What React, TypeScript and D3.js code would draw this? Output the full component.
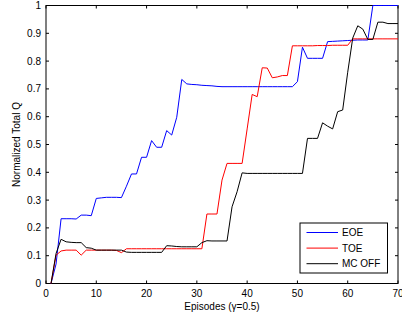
import { useEffect, useRef } from 'react'
import * as d3 from 'd3'

// episodes 1..70
const episodes = d3.range(1, 71)

const eoe = [
  0, 0.07, 0.233, 0.233, 0.233, 0.232, 0.246, 0.246, 0.244, 0.306,
  0.308, 0.31, 0.31, 0.31, 0.309, 0.35, 0.394, 0.394, 0.454, 0.454,
  0.514, 0.49, 0.49, 0.55, 0.534, 0.598, 0.734, 0.718, 0.716, 0.715,
  0.713, 0.712, 0.711, 0.709, 0.708, 0.708, 0.708, 0.708, 0.708, 0.708,
  0.708, 0.708, 0.708, 0.708, 0.708, 0.708, 0.708, 0.708, 0.708, 0.726,
  0.85, 0.81, 0.81, 0.81, 0.81, 0.87, 0.871, 0.872, 0.873, 0.874,
  0.875, 0.876, 0.876, 0.876, 1, 1, 1, 1, 1, 1,
]

const toe = [
  0, 0.102, 0.117, 0.12, 0.12, 0.12, 0.102, 0.12, 0.12, 0.12,
  0.12, 0.12, 0.12, 0.119, 0.111, 0.125, 0.125, 0.125, 0.125, 0.125,
  0.125, 0.125, 0.125, 0.125, 0.125, 0.125, 0.125, 0.125, 0.125, 0.125,
  0.125, 0.25, 0.25, 0.25, 0.372, 0.432, 0.432, 0.432, 0.432, 0.556,
  0.68, 0.672, 0.776, 0.775, 0.74, 0.743, 0.748, 0.748, 0.855, 0.855,
  0.855, 0.855, 0.855, 0.856, 0.856, 0.856, 0.857, 0.857, 0.857, 0.857,
  0.88, 0.88, 0.88, 0.88, 0.88, 0.88, 0.88, 0.88, 0.88, 0.88,
]

const mcOff = [
  0, 0.108, 0.159, 0.15, 0.148, 0.147, 0.147, 0.129, 0.127, 0.12,
  0.12, 0.12, 0.12, 0.12, 0.12, 0.113, 0.112, 0.112, 0.112, 0.112,
  0.112, 0.112, 0.112, 0.136, 0.135, 0.133, 0.132, 0.132, 0.132, 0.132,
  0.147, 0.154, 0.153, 0.153, 0.153, 0.153, 0.276, 0.33, 0.398, 0.396,
  0.396, 0.396, 0.396, 0.396, 0.396, 0.396, 0.396, 0.396, 0.396, 0.396,
  0.396, 0.522, 0.522, 0.522, 0.578, 0.566, 0.556, 0.618, 0.624, 0.76,
  0.883, 0.927, 0.915, 0.878, 0.878, 0.94, 0.94, 0.935, 0.935, 0.935,
]

const xTicks = [0, 10, 20, 30, 40, 50, 60, 70]
const yTicks = [0, 0.1, 0.2, 0.3, 0.4, 0.5, 0.6, 0.7, 0.8, 0.9, 1]
const series = [
  { name: 'EOE', values: eoe, color: '#0000ff' },
  { name: 'TOE', values: toe, color: '#ff0000' },
  { name: 'MC OFF', values: mcOff, color: '#000000' },
]

export default function App() {
  const svgRef = useRef<SVGSVGElement>(null)

  useEffect(() => {
    const svg = d3.select(svgRef.current)
    svg.selectAll('*').remove()
    const font = 'Liberation Sans, Arial, sans-serif'
    const L = 46, R = 398, T = 5.5, B = 283.5

    const xSc = d3.scaleLinear().domain([0, 70]).range([L, R])
    const ySc = d3.scaleLinear().domain([0, 1]).range([B, T])

    svg.append('rect').attr('width', 402).attr('height', 320).attr('fill', '#fff')

    // box + inward ticks (all four sides)
    svg.append('rect').attr('x', L).attr('y', T).attr('width', R - L).attr('height', B - T)
      .attr('fill', 'none').attr('stroke', '#000').attr('stroke-width', 1)
    const tl = 3
    xTicks.forEach(t => {
      const x = xSc(t)
      svg.append('line').attr('x1', x).attr('x2', x).attr('y1', B).attr('y2', B - tl).attr('stroke', '#000')
      svg.append('line').attr('x1', x).attr('x2', x).attr('y1', T).attr('y2', T + tl).attr('stroke', '#000')
      svg.append('text').attr('x', x).attr('y', 297).attr('text-anchor', 'middle')
        .attr('font-family', font).attr('font-size', '10px').attr('fill', '#000').text(String(t))
    })
    yTicks.forEach(t => {
      const y = ySc(t)
      svg.append('line').attr('x1', L).attr('x2', L + tl).attr('y1', y).attr('y2', y).attr('stroke', '#000')
      svg.append('line').attr('x1', R).attr('x2', R - tl).attr('y1', y).attr('y2', y).attr('stroke', '#000')
      svg.append('text').attr('x', 41).attr('y', y).attr('dy', '0.35em').attr('text-anchor', 'end')
        .attr('font-family', font).attr('font-size', '10px').attr('fill', '#000').text(d3.format('~g')(t))
    })

    // series drawn over the frame (blue at 1.0 sits on the top edge)
    const line = d3.line<number>().x((_, i) => xSc(episodes[i])).y(d => ySc(d))
    series.forEach(s => {
      svg.append('path').datum(s.values).attr('fill', 'none').attr('stroke', s.color)
        .attr('stroke-width', 1).attr('d', line)
    })

    svg.append('text').attr('x', (L + R) / 2).attr('y', 309.5).attr('text-anchor', 'middle')
      .attr('font-family', font).attr('font-size', '10px').attr('fill', '#000').text('Episodes (γ=0.5)')
    svg.append('text').attr('transform', `translate(20,${(T + B) / 2}) rotate(-90)`).attr('text-anchor', 'middle')
      .attr('font-family', font).attr('font-size', '10px').attr('fill', '#000').text('Normalized Total Q')

    // legend
    const lg = svg.append('g').attr('transform', 'translate(300,223)')
    lg.append('rect').attr('width', 87.5).attr('height', 50).attr('fill', '#fff').attr('stroke', '#000')
    series.forEach((s, i) => {
      const y = 9.5 + i * 15.6
      lg.append('line').attr('x1', 6.5).attr('x2', 38).attr('y1', y).attr('y2', y).attr('stroke', s.color)
      lg.append('text').attr('x', 42).attr('y', y).attr('dy', '0.35em')
        .attr('font-family', font).attr('font-size', '10px').attr('fill', '#000').text(s.name)
    })
  }, [])

  return (
    <div style={{ position: 'absolute', left: 0, top: 0 }}>
      <svg ref={svgRef} width={402} height={320} style={{ display: 'block' }} />
    </div>
  )
}
